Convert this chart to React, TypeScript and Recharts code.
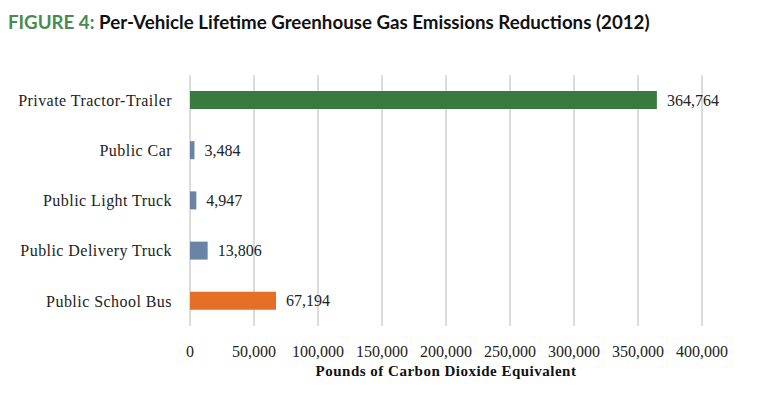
import { BarChart, Bar, XAxis, YAxis, CartesianGrid, Cell, LabelList } from 'recharts';

const categories = [
  'Private Tractor-Trailer',
  'Public Car',
  'Public Light Truck',
  'Public Delivery Truck',
  'Public School Bus',
];
const reductions = [364764, 3484, 4947, 13806, 67194];
const xTicks = [0, 50000, 100000, 150000, 200000, 250000, 300000, 350000, 400000];

const barColors = ['#3b7a3f', '#6a84a6', '#6a84a6', '#6a84a6', '#e56f27'];
const serif = '"Liberation Serif", "Times New Roman", serif';

const data = categories.map((name, i) => ({ name, value: reductions[i] }));

const fmt = (v: number) => v.toLocaleString('en-US');

export default function App() {
  return (
    <div style={{ position: 'fixed', left: 0, top: 0, width: 781, height: 398, background: '#fff' }}>
      <div
        style={{
          position: 'absolute', left: 8, top: 11,
          fontFamily: 'Lato, "Open Sans", sans-serif', fontWeight: 700, fontSize: 18.7,
          color: '#111', whiteSpace: 'nowrap',
        }}
      >
        <span style={{ color: '#4a8a50' }}>FIGURE 4:</span> Per-Vehicle Lifetime Greenhouse Gas Emissions Reductions (2012)
      </div>
      <BarChart
        width={781}
        height={398}
        data={data}
        layout="vertical"
        margin={{ top: 75, right: 79, left: 10, bottom: 22 }}
        barCategoryGap={16}
      >
        <CartesianGrid horizontal={false} stroke="#d0d0d0" strokeWidth={1.5} />
        <XAxis
          type="number"
          domain={[0, 400000]}
          ticks={xTicks}
          tickFormatter={fmt}
          axisLine={false}
          tickLine={false}
          tickMargin={14}
          height={50}
          tick={{ fontSize: 16, fill: '#222', fontFamily: serif }}
          label={{
            value: 'Pounds of Carbon Dioxide Equivalent',
            position: 'insideBottom',
            offset: 0,
            style: { fontSize: 15, fontWeight: 700, fill: '#111', fontFamily: serif, letterSpacing: 0.5 },
          }}
        />
        <YAxis
          type="category"
          dataKey="name"
          width={180}
          axisLine={false}
          tickLine={false}
          tickMargin={12}
          tick={{ fontSize: 16, fill: '#222', fontFamily: serif, letterSpacing: 0.45 }}
        />
        <Bar dataKey="value" barSize={18} isAnimationActive={false}>
          {data.map((d, i) => (
            <Cell key={d.name} fill={barColors[i]} />
          ))}
          <LabelList
            dataKey="value"
            position="right"
            offset={10}
            formatter={(v: number) => fmt(v)}
            style={{ fontSize: 16, fill: '#222', fontFamily: serif }}
          />
        </Bar>
      </BarChart>
    </div>
  );
}
